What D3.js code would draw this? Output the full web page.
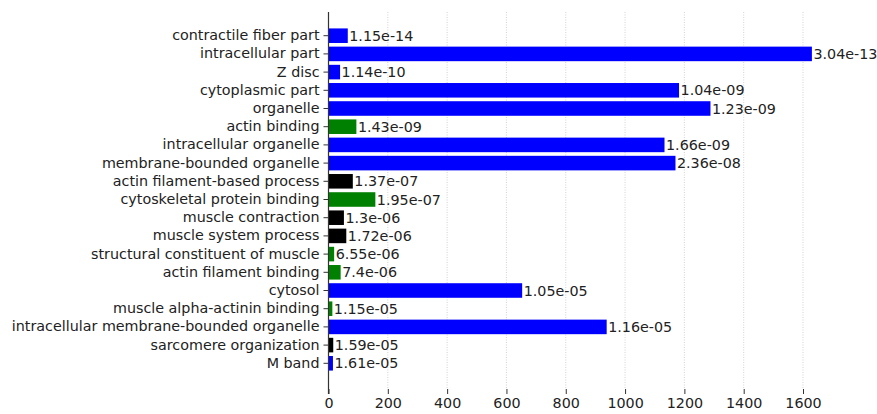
<!DOCTYPE html>
<html><head><meta charset="utf-8">
<script src="https://cdn.jsdelivr.net/npm/d3@7"></script>
<style>body{margin:0;background:#fff}svg{display:block}text{font-family:"DejaVu Sans",sans-serif}</style>
</head><body><svg id="c" width="877" height="414"></svg>
<script>
const categories = ["contractile fiber part","intracellular part","Z disc","cytoplasmic part","organelle","actin binding","intracellular organelle","membrane-bounded organelle","actin filament-based process","cytoskeletal protein binding","muscle contraction","muscle system process","structural constituent of muscle","actin filament binding","cytosol","muscle alpha-actinin binding","intracellular membrane-bounded organelle","sarcomere organization","M band"];
const values = [65,1630,39,1182,1288,94,1133,1170,82,158,52,60,19,41,653,13,938,16,15];
const pvalues = ["1.15e-14","3.04e-13","1.14e-10","1.04e-09","1.23e-09","1.43e-09","1.66e-09","2.36e-08","1.37e-07","1.95e-07","1.3e-06","1.72e-06","6.55e-06","7.4e-06","1.05e-05","1.15e-05","1.16e-05","1.59e-05","1.61e-05"];
const groups = ["CC","CC","CC","CC","CC","MF","CC","CC","BP","MF","BP","BP","MF","MF","CC","MF","CC","BP","CC"];
const groupColors = {CC:"#0000ff", MF:"#008000", BP:"#000000"};
const xTicks = [0,200,400,600,800,1000,1200,1400,1600];

(function(){
const svg = d3.select("#c");
const plotTop = 12, plotBottom = 389;
const FS = 14.3;
const x = d3.scaleLinear().domain([0,1600]).range([328.5,803]);
const y = d3.scaleBand().domain(categories).range([26.6,372.4]).paddingInner(0.2).paddingOuter(0.1);

// grid
svg.append("g").selectAll("line").data(xTicks.slice(1)).join("line")
  .attr("x1",d=>x(d)).attr("x2",d=>x(d)).attr("y1",plotTop).attr("y2",plotBottom)
  .attr("stroke","#c8c8c8").attr("stroke-width",0.8).attr("stroke-dasharray","1,1.5");

// bars
svg.append("g").selectAll("rect").data(categories).join("rect")
  .attr("x",x(0)).attr("y",d=>y(d)).attr("height",y.bandwidth())
  .attr("width",(d,i)=>x(values[i])-x(0))
  .attr("fill",(d,i)=>groupColors[groups[i]]);

// value labels
svg.append("g").selectAll("text").data(categories).join("text")
  .attr("x",(d,i)=>x(values[i])+1.5).attr("y",d=>y(d)+y.bandwidth()/2)
  .attr("dy","0.36em").attr("font-size",FS).attr("fill","#222")
  .text((d,i)=>pvalues[i]);

// x axis
const xAxis = d3.axisBottom(x).tickValues(xTicks).tickSize(5).tickPadding(4).tickFormat(d3.format("d"));
const gx = svg.append("g").attr("transform",`translate(0,${plotBottom})`).call(xAxis);
gx.select(".domain").remove();
gx.selectAll("line").attr("stroke","#333").attr("stroke-width",1);
gx.selectAll("text").attr("font-size",FS).attr("fill","#222").attr("font-family","DejaVu Sans");

// y axis
const yAxis = d3.axisLeft(y).tickSize(5).tickPadding(4);
const gy = svg.append("g").attr("transform",`translate(${x(0)},0)`).call(yAxis);
gy.select(".domain").remove();
gy.selectAll("line").attr("stroke","#333").attr("stroke-width",1);
gy.selectAll("text").attr("font-size",FS).attr("fill","#222").attr("font-family","DejaVu Sans");

// left spine
svg.append("line").attr("x1",x(0)).attr("x2",x(0)).attr("y1",plotTop).attr("y2",plotBottom+5)
  .attr("stroke","#333").attr("stroke-width",1.2);
})();
</script></body></html>
